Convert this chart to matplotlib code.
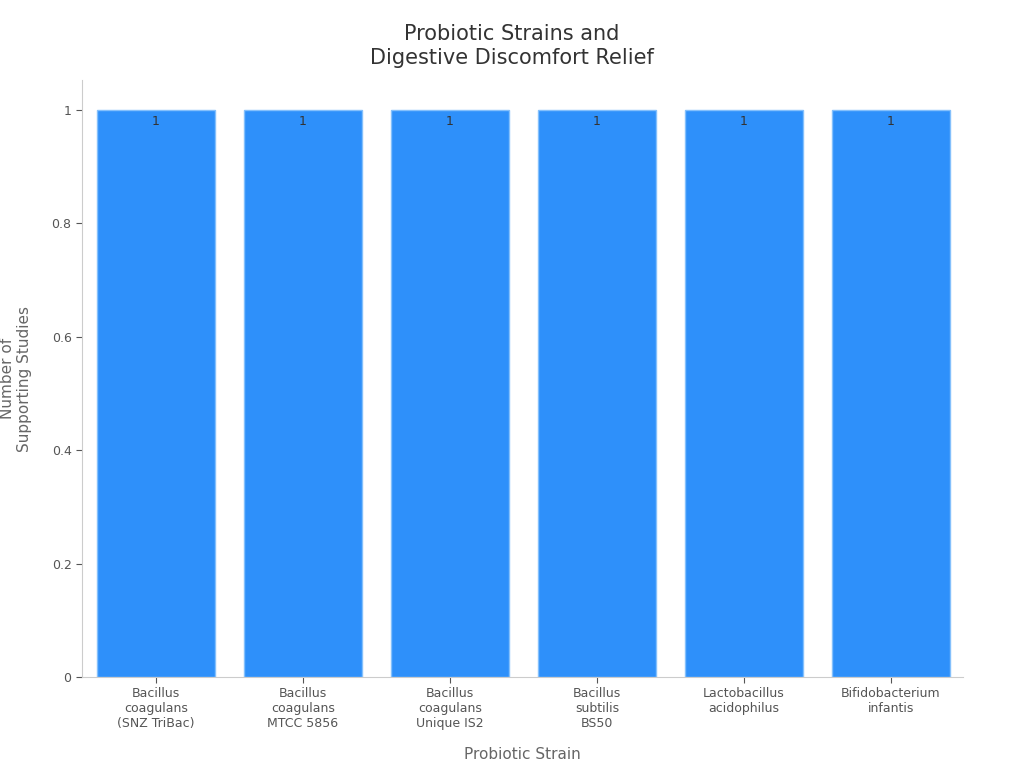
import matplotlib
matplotlib.use("Agg")
import matplotlib.pyplot as plt

categories = ["Bacillus\ncoagulans\n(SNZ TriBac)", "Bacillus\ncoagulans\nMTCC 5856",
              "Bacillus\ncoagulans\nUnique IS2", "Bacillus\nsubtilis\nBS50",
              "Lactobacillus\nacidophilus", "Bifidobacterium\ninfantis"]
values = [1, 1, 1, 1, 1, 1]
yticks = [0, 0.2, 0.4, 0.6, 0.8, 1]
ytick_labels = ["0", "0.2", "0.4", "0.6", "0.8", "1"]

plt.rcParams["font.family"] = "DejaVu Sans"
fig = plt.figure(figsize=(10.24, 7.68), dpi=100)
ax = fig.add_axes([82/1024, 1-677/768, (963-82)/1024, (677-80)/768])
x = list(range(len(categories)))
bars = ax.bar(x, values, width=0.8, color="#2E90FA", edgecolor="#84C0FC", linewidth=1)
for xi, v in zip(x, values):
    ax.text(xi, v - 0.008, f"{v}", ha="center", va="top", fontsize=9, color="#333333")
ax.set_xlim(-0.503, 5.49)
ax.set_ylim(0, 1.053)
ax.set_xticks(x)
ax.set_xticklabels(categories, fontsize=9, color="#222222")
ax.set_yticks(yticks)
ax.set_yticklabels(ytick_labels, fontsize=9, color="#222222")
for s in ["top", "right"]:
    ax.spines[s].set_visible(False)
for s in ["left", "bottom"]:
    ax.spines[s].set_color("#cccccc")
ax.tick_params(colors="#555555", length=4)
ax.set_xlabel("Probiotic Strain", fontsize=11, color="#666666", labelpad=12)
ax.set_ylabel("Number of\nSupporting Studies", fontsize=11, color="#666666", labelpad=14)
fig.text(512/1024, 1-46/768, "Probiotic Strains and\nDigestive Discomfort Relief",
         ha="center", va="center", fontsize=15, color="#333333")
fig.savefig("out.png", dpi=100)
